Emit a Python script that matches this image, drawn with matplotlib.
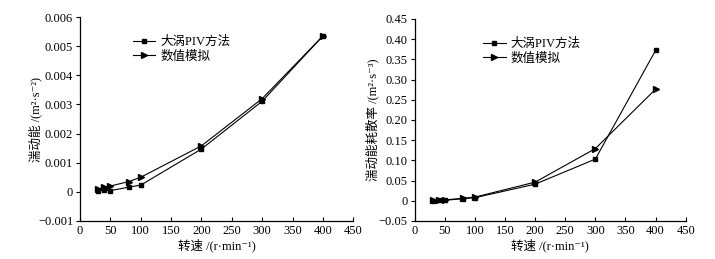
import matplotlib
matplotlib.use("Agg")
import matplotlib.pyplot as plt

plt.rcParams['font.family'] = ['Liberation Serif', 'Noto Sans CJK SC', 'DejaVu Sans']
plt.rcParams['axes.unicode_minus'] = True

speed = [30, 40, 50, 80, 100, 200, 300, 400]
tke_piv = [0.00003, 0.00005, 0.00004, 0.00016, 0.00023, 0.00147, 0.00311, 0.00535]
tke_sim = [0.0001, 0.00015, 0.0002, 0.00035, 0.0005, 0.00158, 0.0032, 0.00535]
eps_piv = [0.0, 0.001, 0.001, 0.005, 0.0075, 0.041, 0.103, 0.372]
eps_sim = [0.001, 0.001, 0.002, 0.006, 0.009, 0.046, 0.129, 0.276]

label_piv = '大涡PIV方法'
label_sim = '数值模拟'
xlabel = '转速 /(r·min\u207b\u00b9)'
ylabel_left = '湍动能 /(m\u00b2·s\u207b\u00b2)'
ylabel_right = '湍动能耗散率 /(m\u00b2·s\u207b\u00b3)'

xticks = [0, 50, 100, 150, 200, 250, 300, 350, 400, 450]
yticks_left = [-0.001, 0, 0.001, 0.002, 0.003, 0.004, 0.005, 0.006]
yticks_left_lbl = ['\u22120.001', '0', '0.001', '0.002', '0.003', '0.004', '0.005', '0.006']
yticks_right = [-0.05, 0, 0.05, 0.10, 0.15, 0.20, 0.25, 0.30, 0.35, 0.40, 0.45]
yticks_right_lbl = ['\u22120.05', '0', '0.05', '0.10', '0.15', '0.20', '0.25', '0.30', '0.35', '0.40', '0.45']

fig = plt.figure(figsize=(7.15, 2.59), dpi=100)
ax1 = fig.add_axes([0.112, 0.147, 0.382, 0.787])
ax2 = fig.add_axes([0.580, 0.147, 0.379, 0.780])

fs = 9

def style(ax, yt, ytl, ylab, ylx):
    for s in ['top', 'right']:
        ax.spines[s].set_visible(False)
    for s in ['left', 'bottom']:
        ax.spines[s].set_linewidth(0.9)
    ax.set_xlim(0, 450)
    ax.set_xticks(xticks)
    ax.set_xticklabels([str(v) for v in xticks], fontsize=fs)
    ax.set_ylim(yt[0], yt[-1])
    ax.set_yticks(yt)
    ax.set_yticklabels(ytl, fontsize=fs)
    ax.tick_params(axis='x', direction='in', length=3, width=0.8, pad=3)
    ax.tick_params(axis='y', direction='out', length=3, width=0.8, pad=2)
    ax.set_xlabel(xlabel, fontsize=fs, labelpad=1)
    ax.set_ylabel(ylab, fontsize=fs)
    ax.yaxis.set_label_coords(ylx, 0.5)

ax1.plot(speed, tke_piv, color='black', lw=0.8, marker='s', ms=3.5, label=label_piv)
ax1.plot(speed, tke_sim, color='black', lw=0.8, marker='>', ms=4, label=label_sim)
style(ax1, yticks_left, yticks_left_lbl, ylabel_left, -0.14)
ax1.legend(loc='upper left', bbox_to_anchor=(0.16, 0.95), frameon=False, fontsize=fs,
           handlelength=1.8, handletextpad=0.4, labelspacing=0.2, borderpad=0.2)

ax2.plot(speed, eps_piv, color='black', lw=0.8, marker='s', ms=3.5, label=label_piv)
ax2.plot(speed, eps_sim, color='black', lw=0.8, marker='>', ms=4, label=label_sim)
style(ax2, yticks_right, yticks_right_lbl, ylabel_right, -0.13)
ax2.legend(loc='upper left', bbox_to_anchor=(0.22, 0.95), frameon=False, fontsize=fs,
           handlelength=1.8, handletextpad=0.4, labelspacing=0.2, borderpad=0.2)

fig.savefig('out.png', dpi=100)
